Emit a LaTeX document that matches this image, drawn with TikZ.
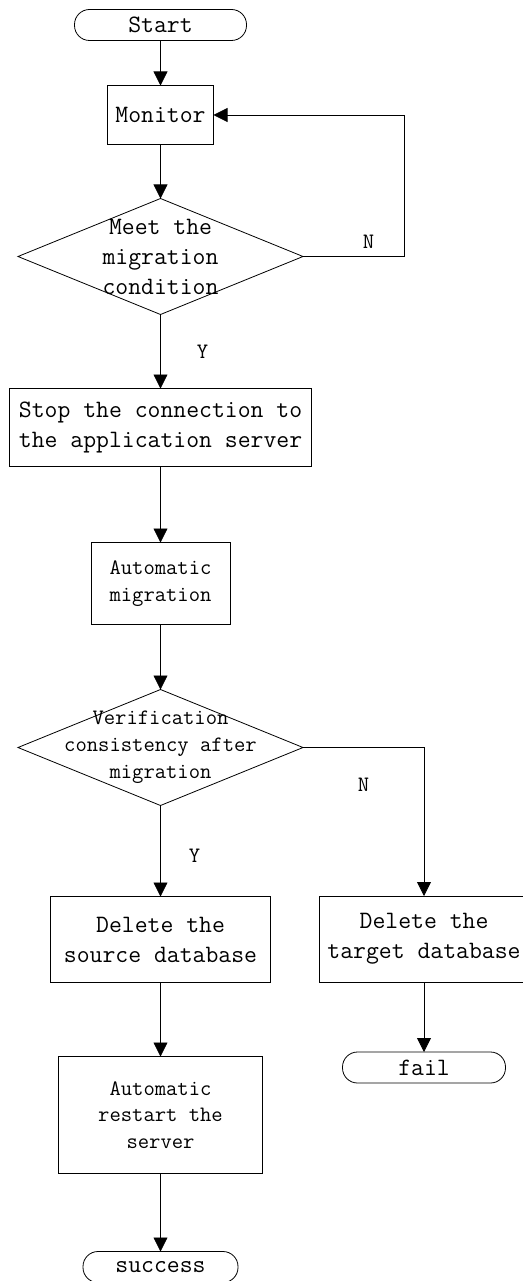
\documentclass[tikz,border=0pt]{standalone}
\usepackage{fontspec}
\usetikzlibrary{shapes,arrows.meta,positioning}

\begin{document}
\begin{tikzpicture}[
    x=1pt, y=-1pt,
    line width=0.8pt,
    terminal/.style={rectangle, draw, rounded corners=15pt, minimum width=172pt, minimum height=31pt, inner sep=0pt, outer sep=0pt, font=\ttfamily\fontsize{25}{30}\selectfont},
    process/.style={rectangle, draw, align=center, inner sep=0pt, outer sep=0pt, font=\ttfamily\fontsize{25}{30}\selectfont},
    smallproc/.style={process, font=\ttfamily\fontsize{22}{26.5}\selectfont},
    decision/.style={diamond, draw, minimum width=285pt, minimum height=116pt, inner sep=0pt, outer sep=0pt},
    question/.style={align=center, inner sep=0pt},
    tag/.style={inner sep=0pt, font=\ttfamily\fontsize{22}{26}\selectfont},
    line/.style={draw, -{Triangle[length=14pt, width=14pt]}}
]
    \useasboundingbox (0,0) rectangle (522,1281);

    \node [terminal] (start) at (160.5,25) {Start};
    \node [process, below=45pt of start, minimum width=106pt, minimum height=59pt] (monitor) {Monitor};
    \node [decision, below=54pt of monitor] (meet) {};
    \node [question, font=\ttfamily\fontsize{25}{30}\selectfont] (meet-text) at (meet) {Meet the\\migration\\condition};
    \node [process, below=74pt of meet, minimum width=302pt, minimum height=78pt] (stop) {Stop the connection to\\the application server};
    \node [smallproc, below=76pt of stop, minimum width=139pt, minimum height=82pt] (auto) {Automatic\\migration};
    \node [decision, below=65pt of auto] (verify) {};
    \node [question, font=\ttfamily\fontsize{22}{27}\selectfont] (verify-text) at (verify) {Verification\\consistency after\\migration};
    \node [process, below=91pt of verify, minimum width=220pt, minimum height=86pt] (dropsrc) {Delete the\\source database};
    \node [process, minimum width=210pt, minimum height=86pt] (droptgt) at (424,939) {Delete the\\target database};
    \node [smallproc, below=74pt of dropsrc, minimum width=204pt, minimum height=117pt] (restart) {Automatic\\restart the\\server};
    \node [terminal, below=78pt of restart, minimum width=155pt] (success) {success};
    \node [terminal, below=70pt of droptgt, minimum width=163pt] (fail) {fail};

    \path [line] (start) -- (monitor);
    \path [line] (monitor) -- (meet);
    \path [line] (meet.east) -- node [tag, pos=0.65, above=8pt] {N} ++(101pt,0) |- (monitor.east);
    \path [line] (meet) -- node [tag, right=36pt] {Y} (stop);
    \path [line] (stop) -- (auto);
    \path [line] (auto) -- (verify);
    \path [line] (verify) -- node [tag, pos=0.55, right=28pt] {Y} (dropsrc);
    \path [line] (verify.east) -| node [tag, pos=0.25, below=30pt] {N} (droptgt.north);
    \path [line] (dropsrc) -- (restart);
    \path [line] (restart) -- (success);
    \path [line] (droptgt) -- (fail);
\end{tikzpicture}
\end{document}
